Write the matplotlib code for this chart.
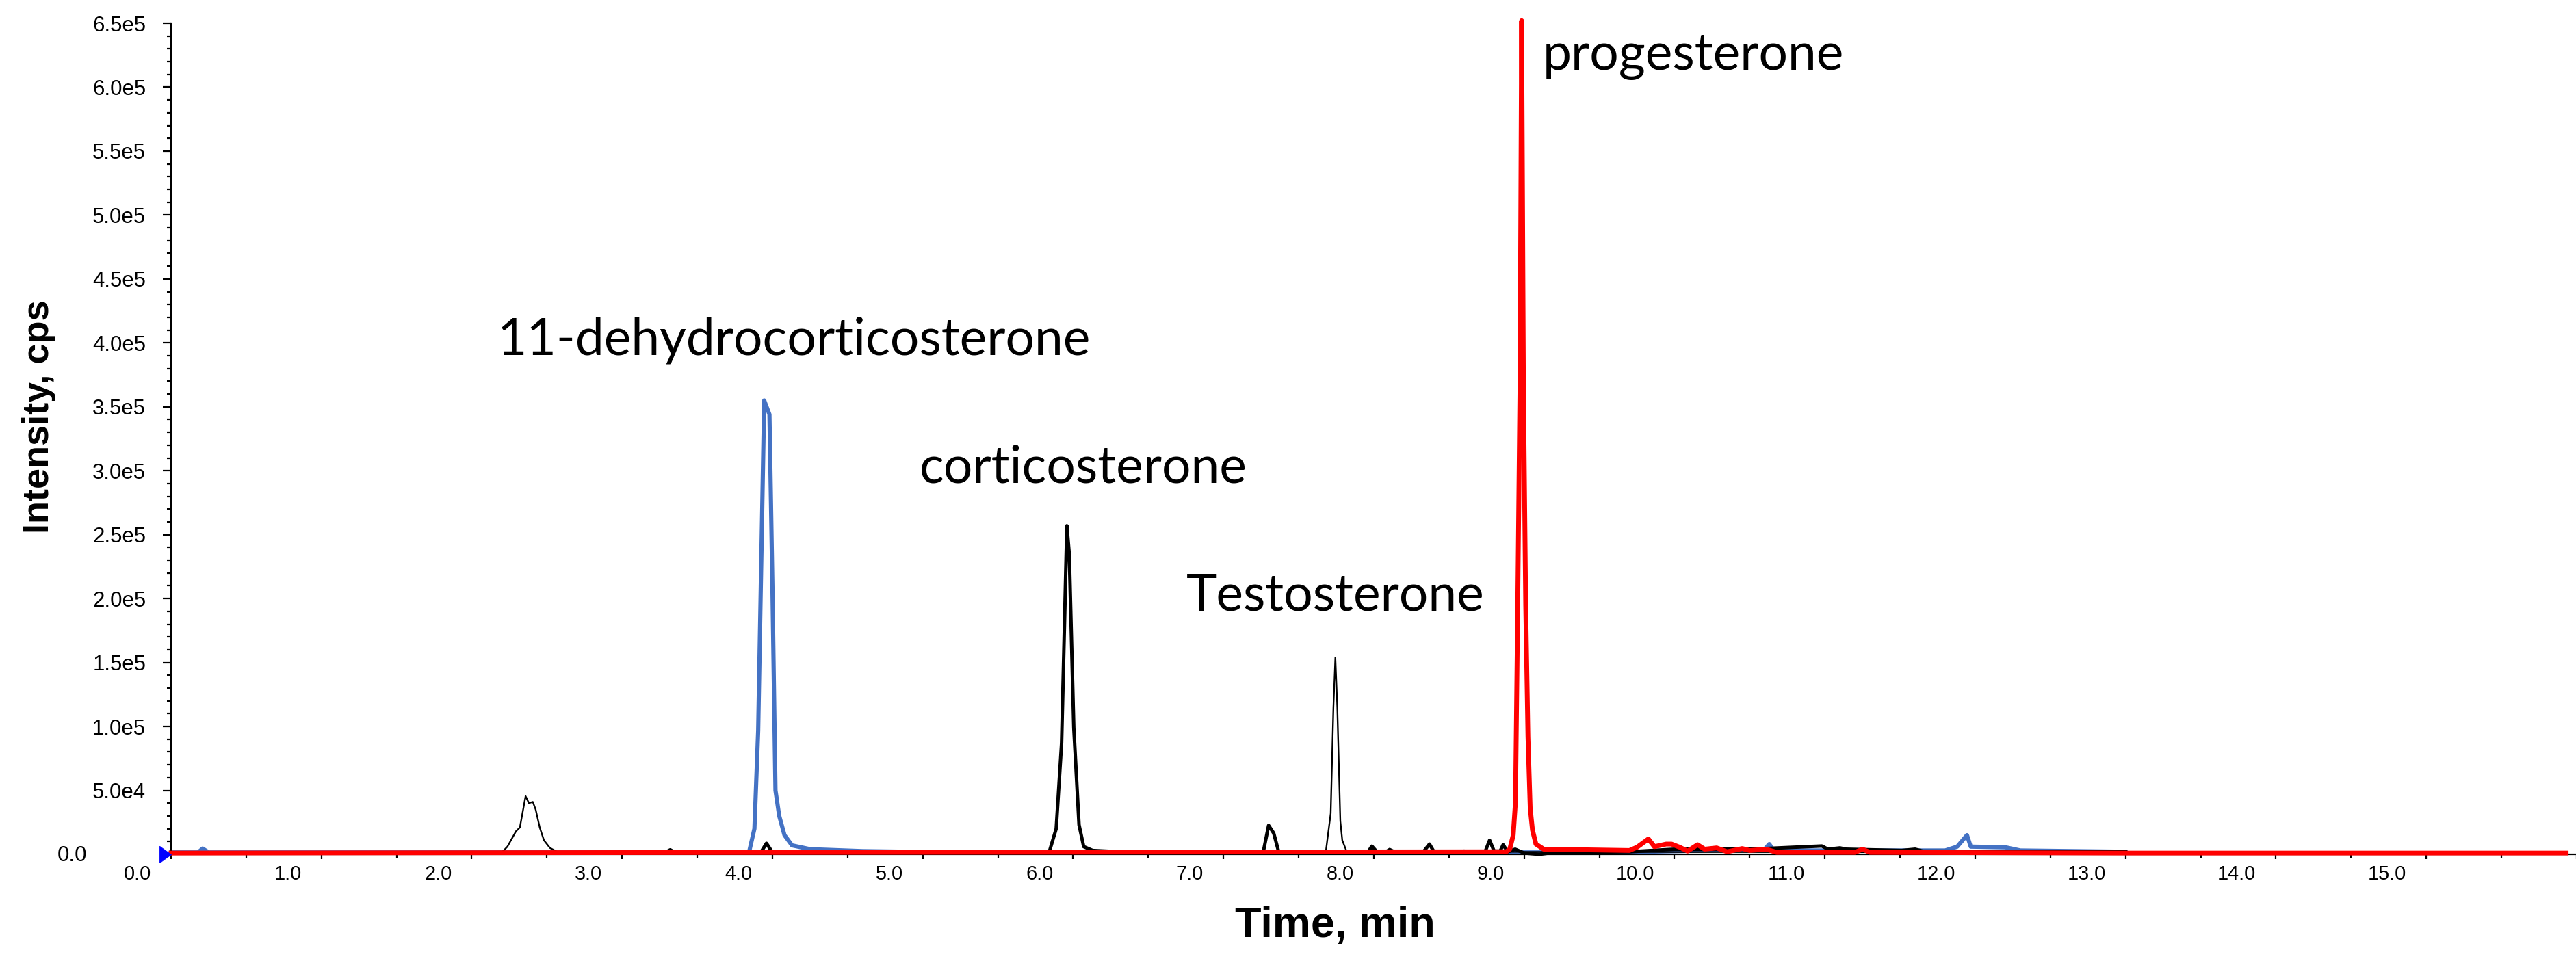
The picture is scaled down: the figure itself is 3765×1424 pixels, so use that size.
import numpy as np
import matplotlib
matplotlib.use("Agg")
import matplotlib.pyplot as plt
from matplotlib.ticker import MultipleLocator, FuncFormatter
from matplotlib.transforms import ScaledTranslation, blended_transform_factory

# ---- data (time in min, intensity in cps) ----
blue_t = [0.0, 0.18, 0.21, 0.25, 3.80, 3.845, 3.88, 3.905, 3.945, 3.98, 4.0, 4.02, 4.045,
          4.08, 4.13, 4.25, 4.6, 5.2, 9.6, 10.2, 10.6, 10.63, 10.66, 11.8, 11.88, 11.945,
          11.97, 12.2, 12.3, 13.0]
blue_i = [1.5e3, 1.5e3, 4.5e3, 1.5e3, 1.5e3, 2e3, 2.0e4, 9.7e4, 3.55e5, 3.44e5, 2.07e5, 5.0e4, 3.0e4,
          1.5e4, 7e3, 4e3, 2.5e3, 1.5e3, 1.5e3, 3e3, 4e3, 8e3, 3e3, 3e3, 6e3, 1.5e4,
          6e3, 5.5e3, 3e3, 2e3]

thin_t = [0.0, 2.2, 2.237, 2.294, 2.32, 2.358, 2.38, 2.406, 2.425, 2.452, 2.48, 2.52, 2.576,
          7.68, 7.713, 7.731, 7.744, 7.757, 7.777, 7.79, 7.82, 8.07, 8.105, 8.15, 13.0]
thin_i = [1e3, 1.5e3, 6e3, 1.8e4, 2.1e4, 4.55e4, 4.0e4, 4.1e4, 3.5e4, 2.1e4, 1.1e4, 5e3, 1.5e3,
          1.5e3, 3.2e4, 1.15e5, 1.54e5, 1.15e5, 2.6e4, 1.1e4, 2e3, 2e3, 4.5e3, 2e3, 1.5e3]

thick_t = [0.0, 3.28, 3.32, 3.36, 3.92, 3.96, 4.0, 5.84, 5.887, 5.923, 5.958, 5.974, 6.004,
           6.039, 6.07, 6.13, 6.4, 7.264, 7.30, 7.334, 7.368, 7.96, 7.987, 8.02, 8.33, 8.37,
           8.40, 8.57, 8.6, 8.63, 8.74, 8.77, 8.80, 8.84, 8.86, 8.89, 8.94, 9.0, 9.1, 9.2,
           9.7, 10.0, 10.3, 10.6, 10.98, 11.02, 11.1, 11.14, 11.51, 11.6, 11.65, 13.0]
thick_i = [1e3, 1e3, 3.5e3, 1e3, 1e3, 8.6e3, 1.5e3, 1.5e3, 2.0e4, 8.7e4, 2.57e5, 2.35e5, 9.9e4,
           2.3e4, 6e3, 3e3, 1.5e3, 1.5e3, 2.26e4, 1.65e4, 1.5e3, 1.5e3, 6.4e3, 2e3, 2e3, 8e3,
           2e3, 1.5e3, 2.5e3, 1.5e3, 2e3, 1.1e4, 2.5e3, 2.5e3, 7.5e3, 2e3, 4e3, 1e3, 0, 1.5e3,
           2e3, 4e3, 4e3, 4.5e3, 6.5e3, 4e3, 5e3, 4e3, 3e3, 4e3, 2.5e3, 2e3]

red_t = [0.0, 8.88, 8.904, 8.927, 8.942, 8.957, 8.972, 8.983, 8.995, 9.01, 9.025, 9.04, 9.055,
         9.078, 9.13, 9.7, 9.75, 9.826, 9.866, 9.944, 9.98, 10.035, 10.087, 10.153, 10.2, 10.28,
         10.35, 10.45, 10.5, 10.61, 10.68, 11.2, 11.25, 11.3, 13.0, 15.93]
red_i = [1e3, 2e3, 4e3, 1.5e4, 4.1e4, 1.95e5, 3.67e5, 6.52e5, 3.67e5, 1.95e5, 9.2e4, 3.6e4, 1.9e4,
         8e3, 4e3, 3e3, 5.5e3, 1.2e4, 6e3, 8e3, 8e3, 5.5e3, 2.5e3, 7.5e3, 4e3, 5e3,
         2e3, 4.5e3, 3e3, 4e3, 1.5e3, 1.5e3, 4e3, 1.5e3, 1e3, 1e3]

x_ticks = np.arange(0, 16, 1.0)
peak_names = ["11-dehydrocorticosterone", "corticosterone", "Testosterone", "progesterone"]
name_pos = [(2.168, 3.906e5), (4.977, 2.91e5), (6.753, 1.906e5), (9.124, 6.138e5)]

W, H, DPI = 3766, 1424, 200
fig = plt.figure(figsize=(W / DPI, H / DPI), dpi=DPI)
ax = fig.add_axes([250 / W, 175 / H, 1 - 250 / W, 1215 / H])

ax.plot(blue_t, blue_i, color="#4472C4", lw=2.2, clip_on=False, zorder=2)
ax.plot(thin_t, thin_i, color="black", lw=0.85, clip_on=False, zorder=3)
ax.plot(thick_t, thick_i, color="black", lw=1.8, clip_on=False, zorder=4)
ax.plot(red_t, red_i, color="#FF0000", lw=2.5, clip_on=False, zorder=5)

# blue start marker on the time axis (tip at t=0)
tri = [(-1.0, -0.72), (0.0, 0.0), (-1.0, 0.72), (-1.0, -0.72)]
ax.plot([0], [0], marker=tri, markersize=12.2, color="#0000FF", mew=0.3,
        clip_on=False, zorder=6, ls="none")

ax.set_xlim(0, 16)
ax.set_ylim(0, 6.5e5)
for s in ["top", "right"]:
    ax.spines[s].set_visible(False)
for s in ["left", "bottom"]:
    ax.spines[s].set_linewidth(0.8)

ax.yaxis.set_major_locator(MultipleLocator(5e4))
ax.yaxis.set_minor_locator(MultipleLocator(1e4))
ax.xaxis.set_major_locator(MultipleLocator(1))
ax.xaxis.set_minor_locator(MultipleLocator(0.5))

def yfmt(v, pos):
    if v <= 0:
        return ""
    e = int(np.floor(np.log10(v) + 1e-9))
    return f"{v / 10 ** e:.1f}e{e}"

ax.yaxis.set_major_formatter(FuncFormatter(yfmt))
ax.tick_params(axis="y", which="major", length=4.3, width=0.8, pad=9, labelsize=11.2)
ax.tick_params(axis="y", which="minor", length=2.2, width=0.8)
ax.tick_params(axis="x", which="major", length=2.5, width=0.8, labelbottom=False)
ax.tick_params(axis="x", which="minor", length=1.8, width=0.8)
for lb in ax.get_yticklabels():
    lb.set_family("Liberation Sans")

# x tick labels sit to the left of their ticks
trans = blended_transform_factory(ax.transData, ax.transAxes)
off = ScaledTranslation(-29 / DPI, -37 / DPI, fig.dpi_scale_trans)
for t in x_ticks:
    ax.text(t, 0, f"{t:.1f}", transform=trans + off, ha="right", va="baseline",
            fontsize=10.4, family="Liberation Sans")

fig.text(127 / W, 1 - 1251 / H, "0.0", ha="right", va="center", fontsize=11.2,
         family="Liberation Sans")

fig.text(1951 / W, 1 - 1370 / H, "Time, min", ha="center", va="baseline",
         fontsize=22.7, fontweight="bold", family="Liberation Sans")
fig.text(71 / W, 1 - 609 / H, "Intensity, cps", ha="center", va="baseline",
         rotation=90, rotation_mode="anchor", fontsize=19.5, fontweight="bold",
         family="Liberation Sans")

for name, (tx, ty) in zip(peak_names, name_pos):
    ax.text(tx, ty, name, ha="left", va="baseline", fontsize=27,
            family=["Lato", "DejaVu Sans"], zorder=7)

fig.savefig("out.png", dpi=DPI)
